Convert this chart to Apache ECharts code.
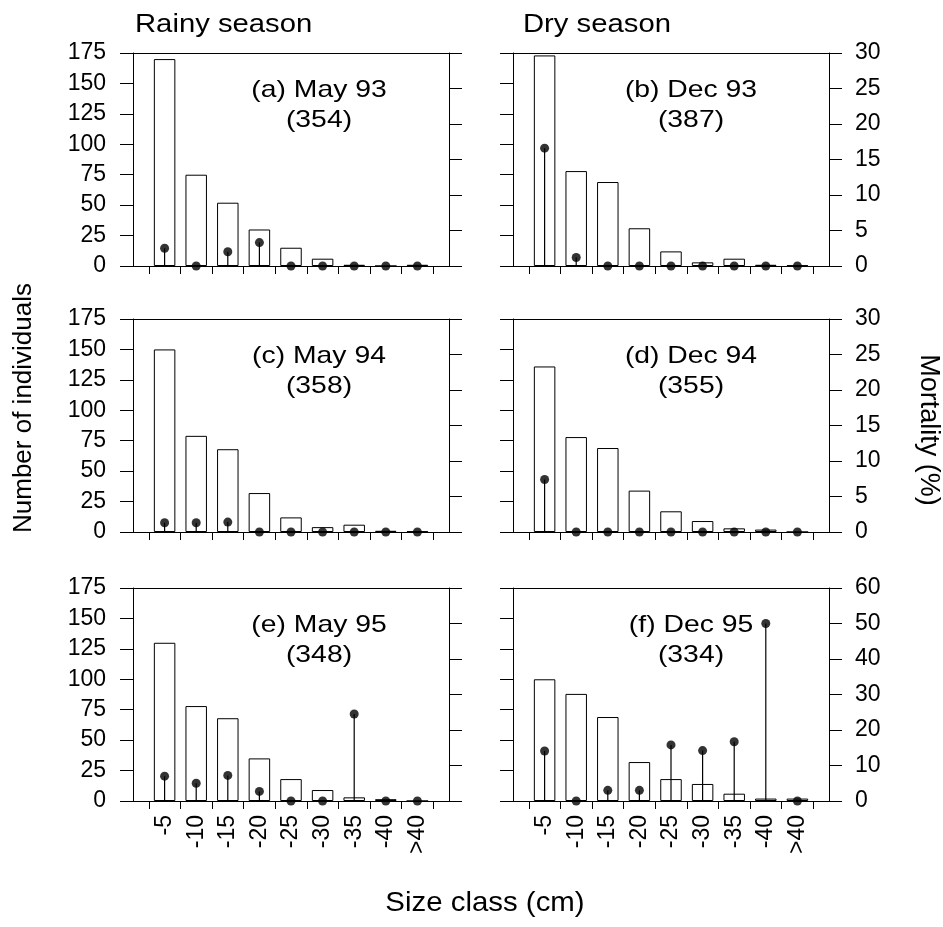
<!DOCTYPE html>
<html>
<head>
<meta charset="utf-8">
<title>Size class distribution and mortality</title>
<script src="https://cdn.jsdelivr.net/npm/echarts@6/dist/echarts.min.js"></script>
<style>
  html, body { margin: 0; padding: 0; background: #fff; }
  #chart { width: 943px; height: 927px; }
</style>
</head>
<body>
<div id="chart"></div>
<script>
// size classes (cm)
const sizeClasses = ['-5', '-10', '-15', '-20', '-25', '-30', '-35', '-40', '>40'];

// number of individuals per class
const countMay93 = [170, 75, 52, 30, 15, 6, 1, 0, 1];
const countDec93 = [173, 78, 69, 31, 12, 3, 6, 1, 0.5];
const countMay94 = [150, 79, 68, 32, 12, 4, 6, 1, 0.5];
const countDec94 = [136, 78, 69, 34, 17, 9, 3, 2, 0];
const countMay95 = [130, 78, 68, 35, 18, 9, 3, 1.5, 0];
const countDec95 = [100, 88, 69, 32, 18, 14, 6, 2, 2];

// mortality (%) per class
const mortMay93 = [2.5, 0, 2.0, 3.3, 0, 0, 0, 0, 0];
const mortDec93 = [16.6, 1.2, 0, 0, 0, 0, 0, 0, 0];
const mortMay94 = [1.3, 1.3, 1.4, 0, 0, 0, 0, 0, 0];
const mortDec94 = [7.4, 0, 0, 0, 0, 0, 0, 0, 0];
const mortMay95 = [7, 5, 7.2, 2.7, 0, 0, 24.5, 0, 0];
const mortDec95 = [14.1, 0, 3, 3, 15.8, 14.2, 16.7, 50, 0];

// axis ticks
const countTicks = [0, 25, 50, 75, 100, 125, 150, 175];
const mortTicksLow = [0, 5, 10, 15, 20, 25, 30];
const mortTicksHigh = [0, 10, 20, 30, 40, 50, 60];

const panels = [
  { label: '(a) May 93', n: '(354)', counts: countMay93, mort: mortMay93, col: 0, row: 0, mortTicks: mortTicksLow },
  { label: '(b) Dec 93', n: '(387)', counts: countDec93, mort: mortDec93, col: 1, row: 0, mortTicks: mortTicksLow },
  { label: '(c) May 94', n: '(358)', counts: countMay94, mort: mortMay94, col: 0, row: 1, mortTicks: mortTicksLow },
  { label: '(d) Dec 94', n: '(355)', counts: countDec94, mort: mortDec94, col: 1, row: 1, mortTicks: mortTicksLow },
  { label: '(e) May 95', n: '(348)', counts: countMay95, mort: mortMay95, col: 0, row: 2, mortTicks: mortTicksHigh },
  { label: '(f) Dec 95', n: '(334)', counts: countDec95, mort: mortDec95, col: 1, row: 2, mortTicks: mortTicksHigh }
];

// layout
const colLeft = [133, 513];
const rowTop = [53, 319, 588];
const plotW = 316;
const plotH = 213;
const labelX = [186, 178];
const FONT = '"Liberation Sans", Arial, Helvetica, sans-serif';
const INK = '#000';

const chart = echarts.init(document.getElementById('chart'));

const grid = [];
const xAxis = [];
const yAxis = [];
const series = [];
const graphic = [];

const tickPos = sizeClasses.map((c, k) => k + 0.5).concat([sizeClasses.length + 0.5]);
const labelPos = sizeClasses.map((c, k) => k + 1);

function label(text, x, y, size, opts) {
  return Object.assign({
    type: 'text', x: x, y: y, silent: true,
    style: { text: text, fontSize: size, fontFamily: FONT, fill: INK, align: 'center', verticalAlign: 'middle' }
  }, opts || {});
}

panels.forEach((p, i) => {
  const left = colLeft[p.col];
  const top = rowTop[p.row];
  grid.push({ left: left, top: top, width: plotW, height: plotH, containLabel: false, outerBoundsMode: 'none' });

  // bottom axis (bars)
  xAxis.push({
    type: 'value', gridIndex: i, min: 0, max: sizeClasses.length + 1, position: 'bottom',
    axisLine: { show: true, onZero: false, lineStyle: { color: INK, width: 1 } },
    axisTick: { show: true, inside: false, length: 8, customValues: tickPos, lineStyle: { color: INK } },
    axisLabel: {
      show: p.row === 2, customValues: labelPos, rotate: 90, margin: 14,
      fontSize: 23, fontFamily: FONT, color: INK,
      formatter: v => sizeClasses[Math.round(v) - 1] || ''
    },
    splitLine: { show: false }
  });
  // top axis (frame + mortality stems)
  xAxis.push({
    type: 'value', gridIndex: i, min: 0, max: sizeClasses.length + 1, position: 'top',
    axisLine: { show: true, onZero: false, lineStyle: { color: INK, width: 1 } },
    axisTick: { show: false }, axisLabel: { show: false }, splitLine: { show: false }
  });

  yAxis.push({
    type: 'value', gridIndex: i, min: 0, max: countTicks[countTicks.length - 1], interval: countTicks[1] - countTicks[0],
    position: 'left',
    axisLine: { show: true, onZero: false, lineStyle: { color: INK, width: 1 } },
    axisTick: { show: true, inside: false, length: 13, lineStyle: { color: INK } },
    axisLabel: { show: p.col === 0, margin: 27, fontSize: 23, fontFamily: FONT, color: INK },
    splitLine: { show: false }
  });
  yAxis.push({
    type: 'value', gridIndex: i, min: 0, max: p.mortTicks[p.mortTicks.length - 1], interval: p.mortTicks[1] - p.mortTicks[0],
    position: 'right',
    axisLine: { show: true, onZero: false, lineStyle: { color: INK, width: 1 } },
    axisTick: { show: true, inside: false, length: 13, lineStyle: { color: INK } },
    axisLabel: { show: p.col === 1, margin: 26, fontSize: 23, fontFamily: FONT, color: INK },
    splitLine: { show: false }
  });

  series.push({
    type: 'bar', xAxisIndex: 2 * i, yAxisIndex: 2 * i,
    data: p.counts.map((v, k) => [k + 1, v]),
    barWidth: '68%',
    itemStyle: { color: '#fff', borderColor: INK, borderWidth: 1 },
    silent: true
  });
  series.push({
    type: 'bar', xAxisIndex: 2 * i + 1, yAxisIndex: 2 * i + 1,
    data: p.mort.map((v, k) => [k + 1, v]),
    barWidth: 1.2,
    itemStyle: { color: INK },
    silent: true
  });
  series.push({
    type: 'scatter', xAxisIndex: 2 * i + 1, yAxisIndex: 2 * i + 1,
    data: p.mort.map((v, k) => [k + 1, v]),
    symbol: 'circle', symbolSize: 9,
    itemStyle: { color: INK },
    silent: true, z: 5
  });

  // frame lines run a little past the plot, as in the original
  [top + 0.5, top + plotH + 0.5].forEach(y => {
    graphic.push({
      type: 'line', silent: true,
      shape: { x1: left - 13, y1: y, x2: left + plotW + 13, y2: y },
      style: { stroke: INK, lineWidth: 1 }
    });
  });

  graphic.push(label(p.label, left + labelX[p.col], top + 37, 24, { scaleX: 1.18 }));
  graphic.push(label(p.n, left + labelX[p.col], top + 67, 24, { scaleX: 1.18 }));
});

const titleStyle = { align: 'left' };
const rainy = label('Rainy season', 135, 25, 25, { scaleX: 1.17 });
Object.assign(rainy.style, titleStyle);
const dry = label('Dry season', 523, 25, 25, { scaleX: 1.17 });
Object.assign(dry.style, titleStyle);

graphic.push(
  rainy,
  dry,
  label('Number of individuals', 24, 408, 26, { rotation: Math.PI / 2 }),
  label('Mortality (%)', 928, 430, 27, { rotation: -Math.PI / 2 }),
  label('Size class (cm)', 485, 903, 28, { scaleX: 1.05 })
);

chart.setOption({
  backgroundColor: '#fff',
  animation: false,
  grid: grid,
  xAxis: xAxis,
  yAxis: yAxis,
  series: series,
  graphic: graphic
});
</script>
</body>
</html>
